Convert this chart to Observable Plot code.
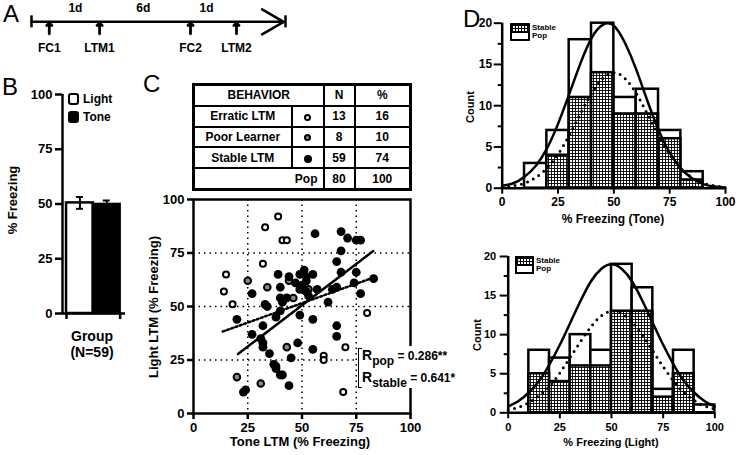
<!DOCTYPE html>
<html><head><meta charset="utf-8">
<script src="https://cdn.jsdelivr.net/npm/d3@7"></script>
<script src="https://cdn.jsdelivr.net/npm/@observablehq/plot@0.6"></script>
<style>
html,body{margin:0;padding:0;background:#fff;}
#fig{position:relative;width:736px;height:455px;overflow:hidden;font-family:"Liberation Sans",Arial,Helvetica,sans-serif;color:#000;background:#fff;}
#fig > div{position:absolute;white-space:nowrap;line-height:1;}
.b{font-weight:bold;}
.ctr{transform:translate(-50%,-50%);}
.vert{transform:translate(-50%,-50%) rotate(-90deg);}
.panel{font-size:24px;font-weight:normal;}
table.beh{position:absolute;border-collapse:collapse;border:3px solid #000;font-weight:bold;font-size:12px;table-layout:fixed;width:217px;height:108px;font-family:"Liberation Sans",Arial,Helvetica,sans-serif;}
table.beh td{border:2px solid #000;text-align:center;padding:0;line-height:1;}
.sym{display:inline-block;width:3px;height:3px;border:2px solid #000;border-radius:50%;vertical-align:middle;}
.sw{position:absolute;border:2px solid #000;box-sizing:border-box;}
.hatch{background-color:#fff;background-image:linear-gradient(#000 1px,transparent 1px),linear-gradient(90deg,#000 1px,transparent 1px);background-size:3px 3px;}
</style>
</head><body>
<svg width="0" height="0" style="position:absolute">
  <defs>
    <pattern id="gridfill" width="3" height="3" patternUnits="userSpaceOnUse">
      <rect width="3" height="3" fill="#fff"></rect>
      <path d="M0,0.5H3M0.5,0V3" stroke="#000" stroke-width="0.9"></path>
    </pattern>
  </defs>
</svg>
<div id="fig"></div>
<script>
// ---------------- DATA ----------------
// Panel A: timeline (schematic positions along the line)
const tlEvents = ["FC1", "LTM1", "FC2", "LTM2"];
const tlEventPos = [7, 26.8, 62.6, 80.7];
const tlGaps = ["1d", "6d", "1d"];
const tlGapPos = [17.3, 44, 68.9];

// Panel B: mean % freezing (N=59)
const bGroups = ["Light", "Tone"];
const bMeans = [50.5, 49.8];
const bSem = [2.7, 1.8];
const bTicks = [0, 25, 50, 75, 100];

// Panel C: table
const behaviorNames = ["Erratic LTM", "Poor Learner", "Stable LTM"];
const behaviorN = [13, 8, 59];
const behaviorPct = [16, 10, 74];
const popN = 80, popPct = 100;

// Panel C: scatter (Tone LTM vs Light LTM)
const erraticTone  = [39, 33, 41, 43, 32, 15, 14, 18, 80, 70, 60, 60, 69];
const erraticLight = [92, 87, 81, 81, 70, 65, 57, 51, 47, 31, 27, 25, 10];
const poorTone  = [25, 34, 44, 46, 53, 43, 20, 31];
const poorLight = [62, 59, 62, 54, 58, 31, 17, 14];
const stableTone  = [56, 68, 71, 75, 77, 68, 66, 68, 75, 74, 77, 83, 66, 64, 62, 66, 66, 55, 39, 44,
                     49, 51, 52, 55, 52, 47, 40, 49, 40, 43, 41, 27, 33, 34, 38, 40, 49, 55, 20, 32,
                     27, 31, 32, 32, 35, 37, 38, 40, 41, 45, 48, 44, 24, 23, 50, 53, 57, 38, 52];
const stableLight = [84, 85, 82, 81, 81, 76, 71, 66, 66, 61, 56, 63, 59, 58, 52, 41, 36, 30, 65, 64,
                     65, 67, 64, 65, 62, 61, 59, 58, 54, 54, 52, 56, 51, 50, 45, 48, 46, 44, 44, 41,
                     37, 35, 33, 31, 28, 23, 21, 18, 18, 26, 33, 13, 11, 10, 60, 55, 58, 22, 57];
const popFitTone = [13.5, 81.5], popFitLight = [38.3, 63];
const stableFitTone = [20.5, 82.8], stableFitLight = [27.8, 75.9];
const scatterTicks = [0, 25, 50, 75, 100];
const gridTicks = [25, 50, 75];
const rPop = "0.286**", rStable = "0.641*";

// Panel D: histograms
const toneBinLo = [10, 20, 30, 40, 50, 60, 70, 80];
const toneBinHi = [20, 30, 40, 50, 60, 70, 80, 90];
const tonePop    = [3, 7, 18, 20, 11, 12, 7, 2];
const toneStable = [0, 4, 11, 14, 9, 9, 6, 1];
const lightBinLo = [10, 20, 30, 40, 50, 60, 70, 80, 90];
const lightBinHi = [20, 30, 40, 50, 60, 70, 80, 90, 100];
const lightPop    = [8, 7, 10, 8, 19, 16, 3, 8, 1];
const lightStable = [5, 4, 6, 6, 13, 13, 2, 5, 0];
const fitX = [0, 5, 10, 15, 20, 25, 30, 35, 40, 45, 50, 55, 60, 65, 70, 75, 80, 85, 90, 95, 100];
const toneFitPop    = [0.3, 0.6, 1.4, 2.7, 4.8, 7.8, 11.4, 15.1, 18.2, 19.8, 19.7, 17.6, 14.4, 10.6, 7.1, 4.3, 2.4, 1.2, 0.5, 0.2, 0.1];
const toneFitStable = [0.1, 0.3, 0.6, 1.3, 2.4, 4.1, 6.4, 9.0, 11.5, 13.3, 14.0, 13.3, 11.5, 9.0, 6.4, 4.1, 2.4, 1.3, 0.6, 0.3, 0.1];
const lightFitPop    = [0.8, 1.5, 2.6, 4.1, 6.2, 8.7, 11.5, 14.3, 16.8, 18.4, 19.0, 18.4, 16.8, 14.3, 11.5, 8.7, 6.2, 4.1, 2.6, 1.5, 0.8];
const lightFitStable = [0.4, 0.7, 1.3, 2.2, 3.4, 5.1, 7.1, 9.1, 11.0, 12.4, 13.0, 12.7, 11.6, 9.9, 7.9, 5.9, 4.1, 2.6, 1.6, 0.9, 0.5];
const histXTicks = [0, 25, 50, 75, 100];
const histYTicks = [0, 5, 10, 15, 20];
const histYMinor = [2.5, 7.5, 12.5, 17.5];

// ---------------- DRAWING ----------------
const FONT = '"Liberation Sans", Arial, Helvetica, sans-serif';
const fig = document.getElementById("fig");
function baseStyle(left, top) {
  return {position: "absolute", left: left + "px", top: top + "px", background: "transparent",
          overflow: "visible", fontFamily: FONT, color: "black", maxWidth: "none"};
}
function addText(html, x, y, cls, size) {
  const d = document.createElement("div");
  d.innerHTML = html;
  d.className = cls || "";
  d.style.left = x + "px"; d.style.top = y + "px";
  if (size) d.style.fontSize = size + "px";
  fig.appendChild(d);
  return d;
}

// Panel A
const evData = tlEvents.map((name, i) => ({name, pos: tlEventPos[i]}));
const gapData = tlGaps.map((name, i) => ({name, pos: tlGapPos[i]}));
fig.appendChild(Plot.plot({
  width: 300, height: 60, marginLeft: 31, marginRight: 15, marginTop: 0, marginBottom: 0,
  style: baseStyle(0, 0),
  x: {domain: [0, 100], axis: null},
  y: {domain: [-2, 1], range: [48, 8], axis: null},
  marks: [
    Plot.arrow([0], {x1: 0, x2: 99.3, y1: 0, y2: 0, stroke: "black", strokeWidth: 2.5, headLength: 15, headAngle: 60}),
    Plot.ruleX([0, 100], {y1: -0.45, y2: 0.45, stroke: "black", strokeWidth: 2.5}),
    Plot.arrow(evData, {x1: "pos", x2: "pos", y1: -0.9, y2: -0.08, stroke: "black", strokeWidth: 2.8, headLength: 9, headAngle: 90}),
    Plot.text(evData, {x: "pos", y: -2, text: "name", fontSize: 12, fontWeight: "bold", fill: "black"}),
    Plot.text(gapData, {x: "pos", y: 1, text: "name", fontSize: 12, fontWeight: "bold", fill: "black"})
  ]
}));

// Panel B
const bData = bGroups.map((g, i) => ({g, i, mean: bMeans[i], sem: bSem[i]}));
fig.appendChild(Plot.plot({
  width: 140, height: 270, marginLeft: 62, marginRight: 15, marginTop: 14, marginBottom: 37,
  style: baseStyle(0, 80),
  x: {domain: [-0.15, 2.2], label: null},
  y: {domain: [0, 100], label: null},
  marks: [
    Plot.rectY(bData.filter(d => d.g === "Light"), {x1: d => d.i, x2: d => d.i + 1, y: "mean", fill: "white", stroke: "black", strokeWidth: 2.5}),
    Plot.rectY(bData.filter(d => d.g === "Tone"), {x1: d => d.i, x2: d => d.i + 1, y: "mean", fill: "black", stroke: "black", strokeWidth: 2.5}),
    Plot.ruleX(bData, {x: d => d.i + 0.5, y1: d => d.mean - d.sem, y2: d => d.mean + d.sem, stroke: "black", strokeWidth: 2}),
    Plot.ruleY(bData, {x1: d => d.i + 0.37, x2: d => d.i + 0.63, y: d => d.mean + d.sem, stroke: "black", strokeWidth: 2}),
    Plot.ruleY(bData, {x1: d => d.i + 0.37, x2: d => d.i + 0.63, y: d => d.mean - d.sem, stroke: "black", strokeWidth: 2}),
    Plot.ruleX([-0.15], {y1: 0, y2: 100, stroke: "black", strokeWidth: 2.5}),
    Plot.ruleY([0], {stroke: "black", strokeWidth: 2.5}),
    Plot.axisY({ticks: bTicks, tickSize: 7, tickPadding: 3, fontSize: 13, fontWeight: "bold", strokeWidth: 2.5, label: null}),
    Plot.axisX({ticks: [0, 2], tickSize: 6, tickFormat: () => "", strokeWidth: 2.5, label: null})
  ]
}));

// Panel C scatter
const mk = (xs, ys) => xs.map((x, i) => ({x, y: ys[i]}));
fig.appendChild(Plot.plot({
  width: 296, height: 265, marginLeft: 53, marginRight: 26, marginTop: 9, marginBottom: 42,
  style: baseStyle(140, 190),
  x: {domain: [0, 100], label: null},
  y: {domain: [0, 100], label: null},
  marks: [
    Plot.ruleX(gridTicks, {stroke: "black", strokeWidth: 1.5, strokeDasharray: "1.5,4"}),
    Plot.ruleY(gridTicks, {stroke: "black", strokeWidth: 1.5, strokeDasharray: "1.5,4"}),
    Plot.frame({stroke: "black", strokeWidth: 2.5}),
    Plot.line(mk(popFitTone, popFitLight), {x: "x", y: "y", stroke: "black", strokeWidth: 2.5, strokeDasharray: "2,2.5"}),
    Plot.line(mk(stableFitTone, stableFitLight), {x: "x", y: "y", stroke: "black", strokeWidth: 2.5}),
    Plot.dot(mk(erraticTone, erraticLight), {x: "x", y: "y", r: 3, fill: "white", stroke: "black", strokeWidth: 2}),
    Plot.dot(mk(poorTone, poorLight), {x: "x", y: "y", r: 3.3, fill: "#8a8a8a", stroke: "black", strokeWidth: 2}),
    Plot.dot(mk(stableTone, stableLight), {x: "x", y: "y", r: 4.4, fill: "black", stroke: "none"}),
    Plot.axisX({ticks: scatterTicks, tickSize: 6, tickPadding: 3, fontSize: 13, fontWeight: "bold", strokeWidth: 2.5, label: null}),
    Plot.axisY({ticks: scatterTicks, tickSize: 6, tickPadding: 3, fontSize: 13, fontWeight: "bold", strokeWidth: 2.5, label: null})
  ]
}));

// Panel D histograms
function histogram(cfg) {
  const pop = cfg.lo.map((lo, i) => ({lo, hi: cfg.hi[i], n: cfg.pop[i]}));
  const st = cfg.lo.map((lo, i) => ({lo, hi: cfg.hi[i], n: cfg.stable[i]})).filter(d => d.n > 0);
  return Plot.plot({
    width: cfg.width, height: cfg.height, marginLeft: cfg.ml, marginRight: cfg.mr, marginTop: cfg.mt, marginBottom: cfg.mb,
    style: baseStyle(cfg.left, cfg.top),
    x: {domain: [0, 100], label: null},
    y: {domain: [0, 20], label: null},
    marks: [
      Plot.rectY(pop, {x1: "lo", x2: "hi", y: "n", fill: "white", stroke: "black", strokeWidth: 2.5}),
      Plot.rectY(st, {x1: "lo", x2: "hi", y: "n", fill: "url(#gridfill)", stroke: "black", strokeWidth: 2.5}),
      Plot.line(mk(fitX, cfg.fitStable), {x: "x", y: "y", curve: "natural", stroke: "black", strokeWidth: 3, strokeDasharray: "0,6.5", strokeLinecap: "round"}),
      Plot.line(mk(fitX, cfg.fitPop), {x: "x", y: "y", curve: "natural", stroke: "black", strokeWidth: 2.5}),
      Plot.ruleY([0], {stroke: "black", strokeWidth: 2.5}),
      Plot.ruleX([0], {y1: 0, y2: 20, stroke: "black", strokeWidth: 2.5}),
      Plot.axisX({ticks: histXTicks, tickSize: 6, tickPadding: cfg.xpad, fontSize: cfg.fs, fontWeight: "bold", strokeWidth: 2, label: null}),
      Plot.axisY({ticks: histYTicks, tickSize: 8, tickPadding: cfg.ypad, fontSize: cfg.fs, fontWeight: "bold", strokeWidth: 2, label: null}),
      Plot.axisY({ticks: histYMinor, tickSize: 4, tickFormat: () => "", strokeWidth: 2, label: null})
    ]
  });
}
fig.appendChild(histogram({lo: toneBinLo, hi: toneBinHi, pop: tonePop, stable: toneStable,
  fitPop: toneFitPop, fitStable: toneFitStable, left: 470, top: 0, width: 266, height: 230,
  ml: 31.7, mr: 11, mt: 22.7, mb: 42.3, fs: 12, xpad: 3, ypad: 2}));
fig.appendChild(histogram({lo: lightBinLo, hi: lightBinHi, pop: lightPop, stable: lightStable,
  fitPop: lightFitPop, fitStable: lightFitStable, left: 470, top: 235, width: 266, height: 220,
  ml: 37.7, mr: 21.7, mt: 21, mb: 42.7, fs: 11, xpad: 4, ypad: 4}));

// Table for panel C
const tbl = document.createElement("table");
tbl.className = "beh";
tbl.style.left = "192px"; tbl.style.top = "83px";
const symStyles = ["background:#fff", "background:#8a8a8a", "background:#000;width:8px;height:8px;border:none"];
let rows = `<colgroup><col style="width:98px"><col style="width:32px"><col style="width:31px"><col style="width:56px"></colgroup>`;
rows += `<tr><td colspan="2">BEHAVIOR</td><td>N</td><td>%</td></tr>`;
behaviorNames.forEach((name, i) => {
  rows += `<tr><td>${name}</td><td><span class="sym" style="${symStyles[i]}"></span></td><td>${behaviorN[i]}</td><td>${behaviorPct[i]}</td></tr>`;
});
rows += `<tr><td colspan="2" style="text-align:right;padding-right:5px">Pop</td><td>${popN}</td><td>${popPct}</td></tr>`;
tbl.innerHTML = rows;
fig.appendChild(tbl);

// R annotation
const rb = document.createElement("div");
rb.style.cssText = "left:357px;top:346px;width:96px;height:42px;background:#fff;";
fig.appendChild(rb);
const br = document.createElement("div");
br.style.cssText = "left:358px;top:348px;width:3px;height:38px;border:1px solid #000;border-right:none;";
fig.appendChild(br);
addText(`<span style="font-size:14px">R</span><span style="font-size:12px;position:relative;top:5px">pop</span> = ${rPop}`, 362, 348, "b", 12);
addText(`<span style="font-size:14px">R</span><span style="font-size:12px;position:relative;top:5px">stable</span> = ${rStable}`, 362, 370, "b", 12);

// Panel letters
addText("A", 3, 2, "panel");
addText("B", 2, 75, "panel");
addText("C", 143, 72, "panel");
addText("D", 463, 7, "panel");

// Panel B labels & legend
addText("% Freezing", 12, 200, "b vert", 13);
addText("Group", 92, 336, "b ctr", 14);
addText("(N=59)", 92, 352, "b ctr", 14);
const lg1 = document.createElement("div"); lg1.className = "sw"; lg1.style.cssText += "left:68px;top:93px;width:11px;height:12px;border-width:2.5px;border-radius:3px;background:#fff;"; fig.appendChild(lg1);
const lg2 = document.createElement("div"); lg2.className = "sw"; lg2.style.cssText += "left:68px;top:111px;width:11px;height:12px;border-radius:3px;background:#000;"; fig.appendChild(lg2);
addText(bGroups[0], 83, 93, "b", 12);
addText(bGroups[1], 83, 111, "b", 12);

// Panel C axis titles
addText("Tone LTM (% Freezing)", 300, 441, "b ctr", 13);
addText("Light LTM (% Freezing)", 153, 307, "b vert", 13);

// Panel D labels & legends
addText("Count", 470, 107, "b vert", 11);
addText("% Freezing (Tone)", 613, 219, "b ctr", 12);
addText("Count", 477, 335, "b vert", 11);
addText("% Freezing (Light)", 611, 442, "b ctr", 11);
function histLegend(x, y, w, h) {
  const a = document.createElement("div"); a.className = "sw hatch";
  a.style.cssText += `left:${x}px;top:${y}px;width:${w}px;height:${h}px;`; fig.appendChild(a);
  const b = document.createElement("div"); b.className = "sw";
  b.style.cssText += `left:${x}px;top:${y + h - 2}px;width:${w}px;height:${h}px;background:#fff;`; fig.appendChild(b);
  addText("Stable", x + w + 2, y + h / 2 - 4, "b", 8);
  addText("Pop", x + w + 2, y + h + h / 2 - 6, "b", 8);
}
histLegend(510, 23, 20, 10);
histLegend(515, 256, 19, 10);
</script>
</body></html>
